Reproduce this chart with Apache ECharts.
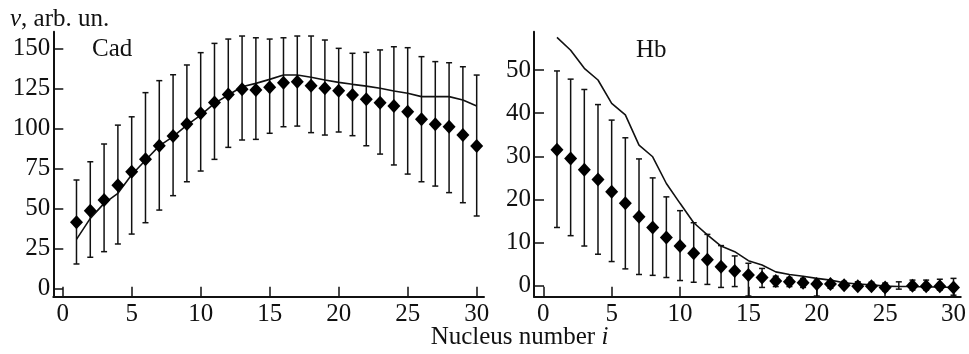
<!DOCTYPE html>
<html>
<head>
<meta charset="utf-8">
<script src="https://cdn.jsdelivr.net/npm/echarts@6/dist/echarts.min.js"></script>
<style>
html,body{margin:0;padding:0;background:#fff;}
#chart{width:969px;height:354px;}
</style>
</head>
<body>
<div id="chart"></div>
<script>
// ---- Data ----
const nucleus = [1,2,3,4,5,6,7,8,9,10,11,12,13,14,15,16,17,18,19,20,21,22,23,24,25,26,27,28,29,30];

const cadMean  = [41.3,48.5,55.2,64.4,72.9,80.6,89.1,95.2,102.7,109.4,116.2,121.2,124.4,124.0,125.6,128.5,129.1,126.6,125.0,123.5,120.8,118.1,116.0,113.9,110.4,105.6,102.5,101.0,95.8,88.9];
const cadHigh  = [67.7,79.1,90.2,102.0,107.2,122.3,129.8,133.5,139.6,147.3,153.1,155.8,157.7,156.6,155.8,156.6,157.7,157.7,155.2,150.0,146.9,147.5,149.0,151.0,150.4,144.8,141.7,141.0,138.5,133.3];
const cadLow   = [15.2,19.4,22.9,27.7,33.9,41.0,48.9,57.9,66.6,73.3,80.6,88.1,92.7,93.1,96.9,101.0,101.4,97.3,95.8,97.7,95.4,89.1,83.9,77.1,71.4,66.6,63.9,59.8,53.5,45.2];
const cadModel = [30.6,43.7,53.1,59.4,71.0,80.0,89.0,94.8,102.0,108.3,115.6,120.8,126.0,128.1,130.6,133.3,133.3,131.9,130.2,128.7,127.5,126.4,125.0,123.3,121.9,119.8,119.8,119.8,117.7,113.9];

const hbMean  = [31.5,29.5,26.9,24.6,21.8,19.1,16.0,13.5,11.2,9.2,7.5,6.0,4.4,3.4,2.5,1.9,1.1,0.9,0.7,0.4,0.4,0.1,-0.1,-0.15,-0.4,null,0.0,-0.15,-0.1,-0.4];
const hbHigh  = [49.8,47.9,45.5,42.0,38.4,34.3,29.4,25.0,20.6,17.4,14.6,11.9,9.3,6.9,5.2,4.0,2.2,1.9,1.7,1.3,1.2,1.0,0.9,0.8,0.6,0.9,1.3,1.3,1.5,1.7];
const hbLow   = [13.5,11.6,9.2,7.3,5.6,3.9,2.6,2.4,1.9,1.2,0.8,0.3,-0.4,-0.2,-2.4,-0.4,-0.2,-0.2,-0.4,-2.4,-0.6,-0.6,-0.7,-0.8,-1.2,-0.8,-1.0,-1.0,-1.0,-2.2];
const hbModel = [57.6,54.6,50.4,47.7,42.3,39.6,32.6,29.9,23.7,19.1,14.6,11.8,9.2,7.9,5.8,4.8,3.2,2.6,2.2,1.7,1.3,0.7,0.4,0.2,-0.1,-0.2,-0.2,-0.3,-0.3,-0.4];

const xTicks = [0,5,10,15,20,25,30];
const cadTicks = [0,25,50,75,100,125,150];
const hbTicks = [0,10,20,30,40,50];

const yTitle = 'v, arb. un.';
const xTitle = 'Nucleus number i';
const panelLabels = ['Cad','Hb'];

// ---- Build ----
const INK = '#111';
const FONT = 'Liberation Serif';

function pairs(xs, ys){ return xs.map((x,k)=> ys[k]==null ? null : [x, ys[k]]).filter(d=>d); }
function bars(xs, lo, hi){ return xs.map((x,k)=>[x, lo[k], hi[k]]); }

function errRender(params, api){
  const x = api.value(0), lo = api.value(1), hi = api.value(2);
  const a = api.coord([x, hi]), b = api.coord([x, lo]);
  const w = 3;
  const st = {stroke: INK, lineWidth: 1.5};
  return {type:'group', children:[
    {type:'line', shape:{x1:a[0],y1:a[1],x2:b[0],y2:b[1]}, style:st},
    {type:'line', shape:{x1:a[0]-w,y1:a[1],x2:a[0]+w,y2:a[1]}, style:st},
    {type:'line', shape:{x1:b[0]-w,y1:b[1],x2:b[0]+w,y2:b[1]}, style:st}
  ]};
}

function xAxis(gi){
  return {
    gridIndex: gi, type:'value', min:-0.68, max:30.53,
    axisLine:{show:true, onZero:false, lineStyle:{color:INK, width:2}},
    axisTick:{show:true, inside:true, length:10, customValues:xTicks, lineStyle:{color:INK, width:1.5}},
    axisLabel:{customValues:xTicks, fontSize:25, fontFamily:FONT, color:INK, margin:5},
    splitLine:{show:false}
  };
}
function yAxis(gi, min, max, ticks){
  return {
    gridIndex: gi, type:'value', min:min, max:max,
    axisLine:{show:true, onZero:false, lineStyle:{color:INK, width:2}},
    axisTick:{show:true, inside:true, length:10, customValues:ticks, lineStyle:{color:INK, width:1.5}},
    axisLabel:{customValues:ticks, fontSize:25, fontFamily:FONT, color:INK, margin:3},
    splitLine:{show:false}
  };
}

function panelSeries(gi, mean, lo, hi, model){
  return [
    {type:'custom', xAxisIndex:gi, yAxisIndex:gi, renderItem:errRender,
     data: bars(nucleus, lo, hi), encode:{x:0, y:[1,2]}, z:2, silent:true, animation:false},
    {type:'line', xAxisIndex:gi, yAxisIndex:gi, data: pairs(nucleus, model), showSymbol:false,
     lineStyle:{color:INK, width:1.6}, z:3, animation:false, silent:true},
    {type:'scatter', xAxisIndex:gi, yAxisIndex:gi, data: pairs(nucleus, mean), symbol:'diamond',
     symbolSize:[13,14], itemStyle:{color:'#000', opacity:1}, z:4, animation:false, silent:true}
  ];
}

const chart = echarts.init(document.getElementById('chart'), null, {renderer:'canvas'});
chart.setOption({
  backgroundColor:'#fff',
  animation:false,
  grid:[
    {left:53.3, top:31.7, width:430.7, height:265},
    {left:534, top:31.7, width:431, height:265}
  ],
  xAxis:[xAxis(0), xAxis(1)],
  yAxis:[yAxis(0, -5.25, 160.4, cadTicks), yAxis(1, -2.55, 58.9, hbTicks)],
  series:[].concat(
    panelSeries(0, cadMean, cadLow, cadHigh, cadModel),
    panelSeries(1, hbMean, hbLow, hbHigh, hbModel)
  ),
  graphic:[
    {type:'text', x:10, y:19.5, style:{
      text:'{i|v}' + yTitle.slice(1), font:'25px "Liberation Serif"', fill:INK, verticalAlign:'middle',
      rich:{i:{fontStyle:'italic', fontSize:25, fontFamily:FONT, fill:INK}}}},
    {type:'text', x:92, y:49.5, style:{text:panelLabels[0], font:'25px "Liberation Serif"', fill:INK, verticalAlign:'middle'}},
    {type:'text', x:636, y:50, style:{text:panelLabels[1], font:'25px "Liberation Serif"', fill:INK, verticalAlign:'middle'}},
    {type:'text', x:519.5, y:337, style:{
      text: xTitle.slice(0, -1) + '{i|' + xTitle.slice(-1) + '}', font:'25px "Liberation Serif"', fill:INK,
      align:'center', verticalAlign:'middle',
      rich:{i:{fontStyle:'italic', fontSize:25, fontFamily:FONT, fill:INK}}}}
  ]
});
</script>
</body>
</html>
